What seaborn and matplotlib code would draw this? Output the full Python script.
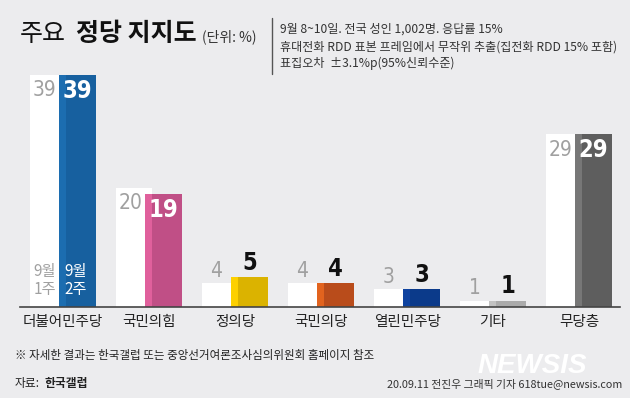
import numpy as np
import pandas as pd
import seaborn as sns
import matplotlib.pyplot as plt
from matplotlib import font_manager
from matplotlib.font_manager import FontProperties
from matplotlib.lines import Line2D

# ---------------------------------------------------------------------------
# Data (read off the reference graphic)
# ---------------------------------------------------------------------------
parties = ["더불어민주당", "국민의힘", "정의당", "국민의당", "열린민주당", "기타", "무당층"]
week1 = [39, 20, 4, 4, 3, 1, 29]   # 9월 1주
week2 = [39, 19, 5, 4, 3, 1, 29]   # 9월 2주
main_colors = ["#17609f", "#c04f86", "#dbb300", "#b94c1b", "#0b3a8a", "#ababab", "#5e5e5e"]
side_colors = ["#1c6db0", "#e0609c", "#fdd000", "#e2631e", "#0f43a0", "#c2c2c2", "#777777"]

notes = [
    "9월 8~10일. 전국 성인 1,002명. 응답률 15%",
    "휴대전화 RDD 표본 프레임에서 무작위 추출(집전화 RDD 15% 포함)",
    "표집오차  ±3.1%p(95%신뢰수준)",
]

# ---------------------------------------------------------------------------
# Style
# ---------------------------------------------------------------------------
BG = "#ececee"
KR = "Noto Sans CJK KR"
sns.set_theme(style="white")
plt.rcParams["font.family"] = [KR, "DejaVu Sans"]


def narrow_font(bold):
    # look for any condensed / narrow latin font for the numbers
    found = [f for f in font_manager.fontManager.ttflist
             if any(k in f.fname for k in ("Condensed", "Narrow"))
             and "Italic" not in f.fname and "Oblique" not in f.fname
             and "CJK" not in f.fname]
    if not found:
        return None
    target = 700 if bold else 400

    def w(f):
        try:
            return int(f.weight)
        except (TypeError, ValueError):
            return 700 if "bold" in str(f.weight).lower() else 400
    found.sort(key=lambda f: (abs(w(f) - target), "Semi" in f.fname, f.fname))
    return FontProperties(fname=found[0].fname)


NUM_REG = narrow_font(False)
NUM_BOLD = narrow_font(True)


def num_props(bold, size):
    base = NUM_BOLD if bold else NUM_REG
    if base is None:
        return FontProperties(family="Liberation Sans",
                              weight="bold" if bold else "normal", size=size - 2)
    p = base.copy()
    p.set_size(size)
    return p


# layout of one group (units = distance between groups)
W_WHITE, W_COL, W_SIDE = 0.419, 0.430, 0.081
OFF_WHITE, OFF_COL, OFF_SIDE = -0.174, 0.169, -0.006
OFF_WHITE_TXT = -0.215

pos = np.arange(len(parties))
df = pd.DataFrame({
    "party": parties,
    "week1": week1,
    "week2": week2,
    "x_white": pos + OFF_WHITE,
    "x_col": pos + OFF_COL,
    "x_side": pos + OFF_SIDE,
})

fig = plt.figure(figsize=(6.3, 3.98), dpi=100)
fig.patch.set_facecolor(BG)
ax = fig.add_axes([20 / 630, (398 - 306.5) / 398, 600 / 630, 237.4 / 398])
ax.set_facecolor("none")


def px(x, y):
    return x / 630, 1 - y / 398


sns.barplot(data=df, x="x_white", y="week1", native_scale=True, orient="x",
            width=W_WHITE, color="white", saturation=1, linewidth=0,
            errorbar=None, ax=ax)
sns.barplot(data=df, x="x_col", y="week2", hue="party", native_scale=True,
            orient="x", dodge=False, width=W_COL,
            palette=dict(zip(parties, main_colors)), saturation=1,
            linewidth=0, errorbar=None, legend=False, ax=ax)
sns.barplot(data=df, x="x_side", y="week2", hue="party", native_scale=True,
            orient="x", dodge=False, width=W_SIDE,
            palette=dict(zip(parties, side_colors)), saturation=1,
            linewidth=0, errorbar=None, legend=False, ax=ax)

ax.set_xlim(-0.5, 6.477)
ax.set_ylim(0, 40)
ax.set_xticks(pos)
ax.set_xticklabels(parties, fontsize=10.5, color="#222222", family=[KR])
ax.tick_params(axis="x", length=0, pad=6)
ax.set_yticks([])
ax.set_xlabel("")
ax.set_ylabel("")
for s in ["left", "right", "top"]:
    ax.spines[s].set_visible(False)
ax.spines["bottom"].set_color("#444444")
ax.spines["bottom"].set_linewidth(1.2)

# value labels
for i, (a, b) in enumerate(zip(week1, week2)):
    if a >= 10:
        ax.annotate(str(a), (i + OFF_WHITE_TXT, a), xytext=(0, -11),
                    textcoords="offset points", ha="center", va="center",
                    color="#a0a0a0", fontproperties=num_props(False, 15))
    else:
        ax.annotate(str(a), (i + OFF_WHITE_TXT, a), xytext=(0, 1.5),
                    textcoords="offset points", ha="center", va="bottom",
                    color="#a0a0a0", fontproperties=num_props(False, 15))
    if b >= 10:
        ax.annotate(str(b), (i + OFF_COL, b), xytext=(0, -11.5),
                    textcoords="offset points", ha="center", va="center",
                    color="white", fontproperties=num_props(True, 17))
    else:
        ax.annotate(str(b), (i + OFF_COL, b), xytext=(0, 1.5),
                    textcoords="offset points", ha="center", va="bottom",
                    color="#111111", fontproperties=num_props(True, 17))

ax.text(0 + OFF_WHITE_TXT, 4.4, "9월\n1주", ha="center", va="center",
        fontsize=11, color="#a0a0a0", linespacing=1.05)
ax.text(0 + OFF_COL - 0.02, 4.4, "9월\n2주", ha="center", va="center",
        fontsize=11, color="white", linespacing=1.05)

# title block
fig.text(*px(20, 34), "주요", fontsize=18, color="#111111", va="center")
fig.text(*px(76, 34), "정당 지지도", fontsize=18, fontweight="bold",
         color="#111111", va="center")
fig.text(*px(202, 37), "(단위: %)", fontsize=10, color="#333333", va="center")
fig.add_artist(Line2D([272 / 630] * 2, [1 - 18 / 398, 1 - 74 / 398],
                      color="#555555", lw=1))
for y, line in zip([29, 47, 63], notes):
    fig.text(*px(280, y), line, fontsize=8.7, color="#333333", va="center")

# footer
fig.text(*px(478, 366), "NEWSIS", fontsize=20, fontweight="bold",
         fontstyle="italic", color="white", family="Liberation Sans",
         va="center", ha="left")
fig.text(*px(15, 355), "※ 자세한 결과는 한국갤럽 또는 중앙선거여론조사심의위원회 홈페이지 참조",
         fontsize=8.3, color="#222222", va="center")
fig.text(*px(15, 383), "자료:", fontsize=8.5, color="#222222", va="center")
fig.text(*px(45, 383), "한국갤럽", fontsize=8.5, fontweight="bold",
         color="#222222", va="center")
fig.text(*px(622, 384), "20.09.11 전진우 그래픽 기자 618tue@newsis.com",
         fontsize=7.8, color="#333333", va="center", ha="right")

fig.savefig("out.png", dpi=100, facecolor=BG)
